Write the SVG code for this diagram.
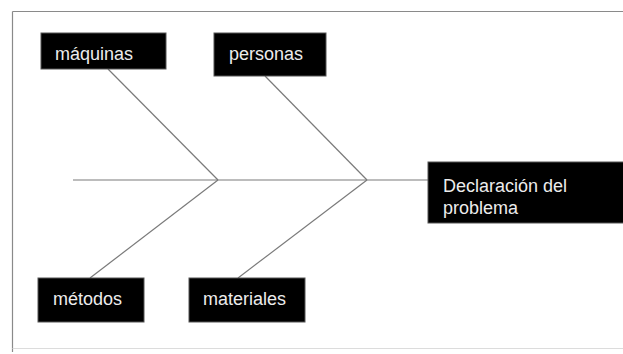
<svg xmlns="http://www.w3.org/2000/svg" width="623" height="354" viewBox="0 0 623 354">
<style>
.box{fill:#000;stroke:#555;stroke-width:1}
.lbl{font-family:"Liberation Sans",Arial,sans-serif;font-size:18px;fill:#ececec}
.bone{stroke:#7a7a7a;stroke-width:1.2;fill:none}
.frame{stroke:#8a8a8a;stroke-width:1.2;fill:none}
</style>
<rect width="623" height="354" fill="#fff"/>
<g id="frame">
<line class="frame" x1="12.5" y1="11.5" x2="623" y2="11.5"/>
<line class="frame" x1="12.5" y1="11.5" x2="12.5" y2="352"/>
<line x1="12.5" y1="348.5" x2="623" y2="348.5" stroke="#dcdcdc" stroke-width="1"/>
</g>
<g id="connectors">
<line class="bone" x1="73" y1="180" x2="428" y2="180"/>
<line class="bone" x1="108" y1="69" x2="218" y2="180"/>
<line class="bone" x1="265" y1="76" x2="367" y2="180"/>
<line class="bone" x1="218" y1="180" x2="90" y2="278"/>
<line class="bone" x1="367" y1="180" x2="238" y2="278"/>
</g>
<g id="maquinas">
<rect class="box" x="41" y="33" width="125" height="36"/>
<text class="lbl" x="55" y="60">máquinas</text>
</g>
<g id="personas">
<rect class="box" x="214" y="33" width="112" height="43"/>
<text class="lbl" x="229" y="60">personas</text>
</g>
<g id="problema">
<rect class="box" x="428" y="162" width="200" height="61"/>
<text class="lbl" x="443" y="192">Declaración del</text>
<text class="lbl" x="443" y="214">problema</text>
</g>
<g id="metodos">
<rect class="box" x="38" y="278" width="106" height="44"/>
<text class="lbl" x="53" y="305">métodos</text>
</g>
<g id="materiales">
<rect class="box" x="189" y="278" width="116" height="44"/>
<text class="lbl" x="203" y="305">materiales</text>
</g>
</svg>
